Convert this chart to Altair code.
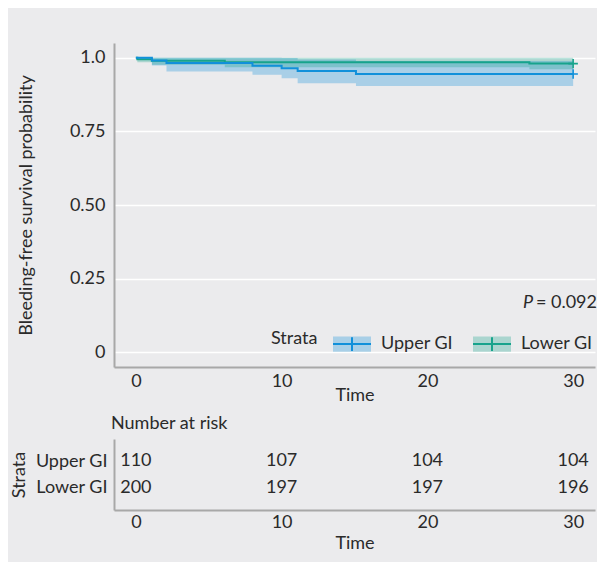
import altair as alt
import pandas as pd

# ---------------- data ----------------
strata = ["Upper GI", "Lower GI"]
colors = ["#1190DA", "#17A38C"]

upper_time = [0.0, 1.1, 2.1, 8.0, 10.0, 11.1, 15.1, 30.0]
upper_surv = [1.0, 0.991, 0.982, 0.973, 0.964, 0.955, 0.945, 0.945]
upper_low = [1.0, 0.974, 0.953, 0.942, 0.930, 0.913, 0.904, 0.904]
upper_high = [1.0, 1.0, 1.0, 1.0, 0.999, 0.994, 0.989, 0.989]

lower_time = [0.0, 0.1, 1.1, 6.1, 27.0, 30.0]
lower_surv = [1.0, 0.995, 0.990, 0.985, 0.980, 0.980]
lower_low = [1.0, 0.985, 0.976, 0.968, 0.961, 0.961]
lower_high = [1.0, 1.0, 1.0, 1.0, 0.9996, 0.9996]

censor_time = [30.0, 30.0]
censor_surv = [0.945, 0.980]

risk_times = [0, 10, 20, 30]
risk_upper = [110, 107, 104, 104]
risk_lower = [200, 197, 197, 196]

p_italic = "P"
p_rest = "= 0.092"

# ---------------- tables ----------------
curves = pd.concat([
    pd.DataFrame({"time": upper_time, "surv": upper_surv, "low": upper_low,
                  "high": upper_high, "strata": strata[0]}),
    pd.DataFrame({"time": lower_time, "surv": lower_surv, "low": lower_low,
                  "high": lower_high, "strata": strata[1]}),
], ignore_index=True)
curves["band"] = curves["strata"]

censors = pd.DataFrame({"time": censor_time, "surv": censor_surv,
                        "strata": strata})

risk = pd.concat([
    pd.DataFrame({"time": risk_times, "n": risk_upper, "strata": strata[0]}),
    pd.DataFrame({"time": risk_times, "n": risk_lower, "strata": strata[1]}),
], ignore_index=True)

# ---------------- styling ----------------
FONT = "Lato"
FS = 18
TXT = "#2a2a2a"
BG = "#EBEBED"
W = 481
H = 324

xscale = alt.Scale(domain=[-1.5, 31.5], nice=False, zero=False)
yscale = alt.Scale(domain=[-0.05, 1.05], nice=False, zero=False)

x_axis = alt.Axis(values=[0, 10, 20, 30], title="Time", grid=False,
                  labelPadding=5, titlePadding=-4)
y_axis = alt.Axis(values=[0, 0.25, 0.5, 0.75, 1.0],
                  title="Bleeding-free survival probability",
                  labelExpr="datum.value == 0 ? '0' : datum.value == 1 ? '1.0' : format(datum.value, '.2f')",
                  grid=True, gridColor="white", gridWidth=1.6,
                  labelPadding=9, titlePadding=34)

LX = 157
LY = 281
common_leg = dict(title="Strata", orient="none", direction="horizontal",
                  legendX=LX, legendY=LY, titleOrient="left",
                  titleAnchor="middle", titleBaseline="middle",
                  symbolSize=1444, symbolStrokeWidth=2,
                  labelFontSize=FS, titleFontSize=FS, labelFont=FONT,
                  titleFont=FONT, titleFontWeight="normal",
                  labelColor=TXT, titleColor=TXT,
                  columnPadding=15, labelOffset=9, titlePadding=14)

fill_scale = alt.Scale(range=colors)
stroke_scale = alt.Scale(range=colors)

band = alt.Chart(curves).mark_area(interpolate="step-after", opacity=0.3).encode(
    x=alt.X("time:Q", scale=xscale, axis=x_axis),
    y=alt.Y("low:Q", scale=yscale, axis=y_axis, stack=None),
    y2="high:Q",
    fill=alt.Fill("band:N", sort=strata, scale=fill_scale,
                  legend=alt.Legend(symbolType="M-1,-0.4H1V0.4H-1Z",
                                    symbolOpacity=0.3,
                                    symbolStrokeColor="transparent",
                                    labelOpacity=0, titleOpacity=0,
                                    **common_leg)),
)

def line_for(name):
    return alt.Chart(curves).transform_filter(
        alt.datum.strata == name
    ).mark_line(interpolate="step-after", strokeWidth=2).encode(
        x=alt.X("time:Q", scale=xscale),
        y=alt.Y("surv:Q", scale=yscale),
        stroke=alt.Stroke("strata:N", sort=strata, scale=stroke_scale,
                          legend=alt.Legend(symbolType="M-1,0H1M0,-0.36V0.36",
                                            symbolFillColor="transparent",
                                            **common_leg)),
    )

cens = alt.Chart(censors).mark_point(
    shape="M-1,0H1M0,-1V1", filled=False, size=90, strokeWidth=1.6, opacity=1
).encode(
    x=alt.X("time:Q", scale=xscale),
    y=alt.Y("surv:Q", scale=yscale),
    stroke=alt.Stroke("strata:N", sort=strata, scale=stroke_scale, legend=None),
)

ptext = pd.DataFrame({"a": [p_italic], "b": [p_rest]})
p_rest_mark = alt.Chart(ptext).mark_text(
    align="right", baseline="middle", font=FONT, fontSize=FS, color=TXT
).encode(x=alt.value(W + 2), y=alt.value(260), text="b:N")
p_ital_mark = alt.Chart(ptext).mark_text(
    align="right", baseline="middle", font=FONT, fontSize=FS, color=TXT,
    fontStyle="italic"
).encode(x=alt.value(W - 62), y=alt.value(260), text="a:N")

main = alt.layer(band, line_for(strata[1]), line_for(strata[0]), cens,
                 p_rest_mark, p_ital_mark).properties(width=W, height=H)

# ---------------- risk table ----------------
table = alt.Chart(risk).mark_text(
    font=FONT, fontSize=FS, color=TXT, align="center", baseline="middle"
).encode(
    x=alt.X("time:Q", scale=xscale,
            axis=alt.Axis(values=[0, 10, 20, 30], title="Time", grid=False,
                          labelPadding=3, titlePadding=3)),
    y=alt.Y("strata:N", sort=strata, scale=alt.Scale(type="point", padding=0.815),
            axis=alt.Axis(title="Strata", grid=False, labelPadding=7,
                          titlePadding=6)),
    text="n:Q",
).properties(
    width=W, height=71,
    title=alt.TitleParams("Number at risk", anchor="start", frame="group",
                          fontSize=FS, font=FONT, fontWeight="normal",
                          color=TXT, offset=6, dx=-3),
)

chart = alt.vconcat(main, table, spacing=11).properties(
    background=BG,
    padding={"left": 2, "top": 35, "right": 0, "bottom": 10},
).configure_view(stroke=None).configure_axis(
    domainColor="#A8A8A8", domainWidth=2, ticks=False,
    labelFont=FONT, labelFontSize=FS, labelColor=TXT,
    titleFont=FONT, titleFontSize=FS, titleFontWeight="normal", titleColor=TXT,
).configure_legend(
    labelFont=FONT, titleFont=FONT
)

chart.save("out.html", embed_options={"renderer": "svg", "actions": False})
